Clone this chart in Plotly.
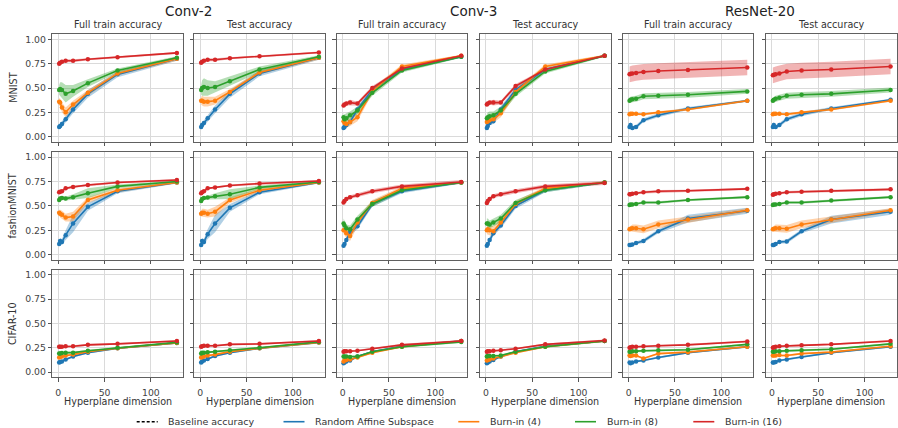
import plotly.graph_objects as go

W, H = 898, 428

# ---------------- data ----------------
dims = [1, 2, 4, 8, 16, 32, 64, 128]
series_names = ["Random Affine Subspace", "Burn-in (4)", "Burn-in (8)", "Burn-in (16)"]
baseline_name = "Baseline accuracy"
datasets = ["MNIST", "fashionMNIST", "CIFAR-10"]
models = ["Conv-2", "Conv-3", "ResNet-20"]
metrics = ["Full train accuracy", "Test accuracy"]
x_ticks = [0, 50, 100]
y_ticks = [0.0, 0.25, 0.5, 0.75, 1.0]

# each panel: [random affine, burn-in 4, burn-in 8, burn-in 16]
mnist_conv2_train = [[0.10, 0.11, 0.13, 0.18, 0.28, 0.44, 0.64, 0.80],
                     [0.36, 0.35, 0.30, 0.25, 0.33, 0.45, 0.65, 0.80],
                     [0.48, 0.49, 0.48, 0.44, 0.47, 0.55, 0.68, 0.81],
                     [0.75, 0.76, 0.77, 0.78, 0.78, 0.795, 0.815, 0.86]]
mnist_conv2_test = [[0.10, 0.12, 0.14, 0.19, 0.28, 0.44, 0.65, 0.81],
                    [0.37, 0.37, 0.36, 0.36, 0.37, 0.46, 0.66, 0.81],
                    [0.48, 0.50, 0.51, 0.50, 0.51, 0.57, 0.69, 0.82],
                    [0.76, 0.77, 0.78, 0.79, 0.79, 0.805, 0.825, 0.865]]
mnist_conv3_train = [[0.09, 0.10, 0.12, 0.15, 0.28, 0.48, 0.69, 0.82],
                     [0.16, 0.14, 0.13, 0.15, 0.20, 0.47, 0.72, 0.83],
                     [0.20, 0.18, 0.19, 0.22, 0.27, 0.45, 0.68, 0.82],
                     [0.32, 0.33, 0.34, 0.35, 0.34, 0.50, 0.70, 0.83]]
mnist_conv3_test = [[0.09, 0.11, 0.14, 0.16, 0.28, 0.48, 0.69, 0.83],
                    [0.15, 0.16, 0.17, 0.18, 0.24, 0.46, 0.72, 0.83],
                    [0.19, 0.20, 0.21, 0.22, 0.27, 0.44, 0.67, 0.83],
                    [0.33, 0.34, 0.35, 0.35, 0.35, 0.52, 0.69, 0.83]]
mnist_resnet_train = [[0.10, 0.12, 0.09, 0.10, 0.17, 0.22, 0.29, 0.37],
                      [0.23, 0.235, 0.235, 0.235, 0.23, 0.25, 0.28, 0.37],
                      [0.37, 0.38, 0.385, 0.39, 0.415, 0.42, 0.43, 0.465],
                      [0.64, 0.645, 0.65, 0.655, 0.665, 0.675, 0.685, 0.71]]
mnist_resnet_test = [[0.10, 0.12, 0.10, 0.12, 0.18, 0.23, 0.29, 0.38],
                     [0.23, 0.235, 0.235, 0.235, 0.23, 0.25, 0.28, 0.37],
                     [0.37, 0.38, 0.39, 0.40, 0.42, 0.43, 0.44, 0.48],
                     [0.63, 0.635, 0.64, 0.65, 0.67, 0.68, 0.69, 0.72]]

fashion_conv2_train = [[0.11, 0.14, 0.13, 0.20, 0.32, 0.49, 0.65, 0.74],
                       [0.43, 0.42, 0.41, 0.38, 0.39, 0.56, 0.66, 0.74],
                       [0.56, 0.575, 0.58, 0.575, 0.59, 0.63, 0.70, 0.75],
                       [0.64, 0.645, 0.65, 0.68, 0.695, 0.715, 0.74, 0.765]]
fashion_conv2_test = [[0.10, 0.14, 0.13, 0.21, 0.32, 0.48, 0.64, 0.74],
                      [0.42, 0.43, 0.43, 0.42, 0.44, 0.56, 0.66, 0.74],
                      [0.55, 0.57, 0.58, 0.585, 0.60, 0.62, 0.69, 0.745],
                      [0.63, 0.64, 0.65, 0.68, 0.69, 0.71, 0.73, 0.755]]
fashion_conv3_train = [[0.09, 0.11, 0.15, 0.23, 0.29, 0.52, 0.65, 0.74],
                       [0.25, 0.25, 0.22, 0.19, 0.33, 0.53, 0.68, 0.74],
                       [0.32, 0.30, 0.27, 0.26, 0.36, 0.52, 0.66, 0.74],
                       [0.535, 0.55, 0.57, 0.59, 0.61, 0.65, 0.70, 0.745]]
fashion_conv3_test = [[0.09, 0.11, 0.15, 0.22, 0.30, 0.50, 0.66, 0.74],
                      [0.25, 0.26, 0.25, 0.24, 0.33, 0.52, 0.68, 0.74],
                      [0.32, 0.32, 0.31, 0.33, 0.37, 0.53, 0.66, 0.74],
                      [0.53, 0.55, 0.57, 0.60, 0.62, 0.65, 0.70, 0.735]]
fashion_resnet_train = [[0.10, 0.10, 0.105, 0.12, 0.14, 0.24, 0.37, 0.45],
                        [0.26, 0.265, 0.27, 0.27, 0.26, 0.31, 0.36, 0.455],
                        [0.51, 0.515, 0.515, 0.52, 0.535, 0.535, 0.56, 0.59],
                        [0.62, 0.62, 0.625, 0.63, 0.64, 0.65, 0.655, 0.675]]
fashion_resnet_test = [[0.10, 0.10, 0.11, 0.13, 0.135, 0.24, 0.36, 0.44],
                       [0.26, 0.265, 0.27, 0.27, 0.265, 0.31, 0.36, 0.455],
                       [0.51, 0.515, 0.515, 0.52, 0.535, 0.535, 0.555, 0.59],
                       [0.615, 0.62, 0.625, 0.63, 0.64, 0.645, 0.655, 0.67]]

cifar_conv2_train = [[0.10, 0.105, 0.11, 0.13, 0.16, 0.20, 0.245, 0.30],
                     [0.15, 0.155, 0.16, 0.17, 0.18, 0.21, 0.245, 0.30],
                     [0.19, 0.19, 0.195, 0.20, 0.20, 0.22, 0.25, 0.305],
                     [0.26, 0.26, 0.26, 0.265, 0.265, 0.28, 0.29, 0.32]]
cifar_conv2_test = [[0.10, 0.11, 0.12, 0.135, 0.165, 0.20, 0.245, 0.305],
                    [0.15, 0.155, 0.16, 0.17, 0.18, 0.21, 0.245, 0.305],
                    [0.19, 0.20, 0.20, 0.205, 0.21, 0.225, 0.25, 0.31],
                    [0.26, 0.265, 0.27, 0.27, 0.27, 0.285, 0.29, 0.32]]
cifar_conv3_train = [[0.09, 0.10, 0.11, 0.12, 0.16, 0.21, 0.265, 0.32],
                     [0.11, 0.12, 0.125, 0.13, 0.15, 0.20, 0.26, 0.32],
                     [0.16, 0.16, 0.16, 0.155, 0.16, 0.21, 0.26, 0.31],
                     [0.21, 0.215, 0.215, 0.215, 0.22, 0.24, 0.28, 0.32]]
cifar_conv3_test = [[0.09, 0.10, 0.11, 0.125, 0.16, 0.21, 0.265, 0.32],
                    [0.12, 0.125, 0.13, 0.14, 0.16, 0.20, 0.26, 0.32],
                    [0.16, 0.165, 0.165, 0.165, 0.17, 0.21, 0.26, 0.32],
                    [0.21, 0.215, 0.215, 0.22, 0.225, 0.24, 0.285, 0.325]]
cifar_resnet_train = [[0.10, 0.09, 0.10, 0.11, 0.12, 0.15, 0.20, 0.26],
                      [0.17, 0.165, 0.17, 0.17, 0.14, 0.19, 0.205, 0.26],
                      [0.21, 0.21, 0.215, 0.215, 0.22, 0.225, 0.23, 0.285],
                      [0.25, 0.255, 0.26, 0.26, 0.265, 0.27, 0.28, 0.315]]
cifar_resnet_test = [[0.10, 0.10, 0.105, 0.12, 0.13, 0.155, 0.20, 0.26],
                     [0.17, 0.17, 0.17, 0.175, 0.17, 0.19, 0.205, 0.265],
                     [0.21, 0.21, 0.215, 0.215, 0.22, 0.225, 0.235, 0.29],
                     [0.25, 0.255, 0.26, 0.265, 0.27, 0.275, 0.285, 0.32]]

# spread (half-width of shaded band) for each panel, same series order
mnist_conv2_train_sd = [[0.02, 0.02, 0.03, 0.03, 0.04, 0.04, 0.03, 0.02],
                        [0.04, 0.04, 0.05, 0.05, 0.04, 0.03, 0.02, 0.02],
                        [0.05, 0.07, 0.08, 0.09, 0.06, 0.04, 0.02, 0.015],
                        [0.015, 0.015, 0.015, 0.015, 0.015, 0.01, 0.01, 0.01]]
mnist_conv2_test_sd = [[0.02, 0.02, 0.03, 0.03, 0.04, 0.04, 0.03, 0.02],
                       [0.04, 0.05, 0.05, 0.05, 0.04, 0.03, 0.02, 0.02],
                       [0.05, 0.08, 0.09, 0.08, 0.06, 0.05, 0.03, 0.015],
                       [0.015, 0.015, 0.015, 0.015, 0.015, 0.01, 0.01, 0.01]]
mnist_conv3_sd = [[0.02, 0.02, 0.02, 0.03, 0.03, 0.03, 0.02, 0.01],
                  [0.03, 0.03, 0.04, 0.04, 0.04, 0.03, 0.02, 0.01],
                  [0.04, 0.05, 0.05, 0.04, 0.04, 0.03, 0.02, 0.01],
                  [0.015, 0.02, 0.02, 0.03, 0.02, 0.02, 0.01, 0.01]]
mnist_resnet_sd = [[0.02, 0.03, 0.02, 0.02, 0.02, 0.02, 0.015, 0.01],
                   [0.012, 0.012, 0.012, 0.012, 0.012, 0.012, 0.012, 0.012],
                   [0.03, 0.03, 0.03, 0.03, 0.03, 0.03, 0.03, 0.025],
                   [0.08, 0.08, 0.08, 0.08, 0.08, 0.08, 0.08, 0.08]]
fashion_conv2_sd = [[0.02, 0.03, 0.03, 0.05, 0.09, 0.04, 0.02, 0.01],
                    [0.03, 0.04, 0.04, 0.04, 0.05, 0.03, 0.02, 0.01],
                    [0.02, 0.02, 0.02, 0.02, 0.03, 0.05, 0.02, 0.01],
                    [0.01, 0.01, 0.01, 0.01, 0.01, 0.01, 0.01, 0.01]]
fashion_conv3_sd = [[0.02, 0.03, 0.03, 0.03, 0.03, 0.03, 0.02, 0.01],
                    [0.04, 0.05, 0.05, 0.05, 0.04, 0.03, 0.02, 0.01],
                    [0.05, 0.05, 0.04, 0.04, 0.04, 0.03, 0.02, 0.01],
                    [0.02, 0.02, 0.02, 0.02, 0.02, 0.02, 0.02, 0.02]]
fashion_resnet_sd = [[0.01, 0.01, 0.01, 0.015, 0.02, 0.02, 0.04, 0.03],
                     [0.02, 0.03, 0.04, 0.04, 0.04, 0.04, 0.03, 0.02],
                     [0.01, 0.01, 0.01, 0.01, 0.012, 0.012, 0.012, 0.012],
                     [0.012, 0.012, 0.012, 0.012, 0.012, 0.012, 0.012, 0.012]]
cifar_sd = [[0.01, 0.01, 0.01, 0.01, 0.01, 0.01, 0.01, 0.01],
            [0.01, 0.01, 0.01, 0.01, 0.01, 0.01, 0.01, 0.01],
            [0.01, 0.01, 0.01, 0.01, 0.01, 0.01, 0.01, 0.01],
            [0.01, 0.01, 0.01, 0.01, 0.01, 0.01, 0.01, 0.01]]

panel_means = [
    [mnist_conv2_train, mnist_conv2_test, mnist_conv3_train, mnist_conv3_test, mnist_resnet_train, mnist_resnet_test],
    [fashion_conv2_train, fashion_conv2_test, fashion_conv3_train, fashion_conv3_test, fashion_resnet_train, fashion_resnet_test],
    [cifar_conv2_train, cifar_conv2_test, cifar_conv3_train, cifar_conv3_test, cifar_resnet_train, cifar_resnet_test],
]
panel_sds = [
    [mnist_conv2_train_sd, mnist_conv2_test_sd, mnist_conv3_sd, mnist_conv3_sd, mnist_resnet_sd, mnist_resnet_sd],
    [fashion_conv2_sd, fashion_conv2_sd, fashion_conv3_sd, fashion_conv3_sd, fashion_resnet_sd, fashion_resnet_sd],
    [cifar_sd, cifar_sd, cifar_sd, cifar_sd, cifar_sd, cifar_sd],
]

# ---------------- style ----------------
colors = ["#1f77b4", "#ff7f0e", "#2ca02c", "#d62728"]
fills = ["rgba(31,119,180,0.35)", "rgba(255,127,14,0.35)", "rgba(44,160,44,0.35)", "rgba(214,39,40,0.35)"]
FONT = "DejaVu Sans"
TXT = "#333333"

col_left = [52.3, 194.3, 336.7, 480.0, 622.7, 766.0]
panel_w = 130.5
row_top = [34.4, 152.3, 269.8]
panel_h = 107.2

# legend layout (pixel x of each sample line start; text follows)
legend_line_x = [136.7, 283.5, 458.3, 575.0, 693.3]
legend_line_len = 21
legend_text_gap = 8.5
legend_y = 421.7


def px_x(p):
    return p / W


def px_y(p):
    return 1 - p / H


fig = go.Figure()
layout = {}

for r in range(3):
    for c in range(6):
        idx = r * 6 + c + 1
        xname = "x" if idx == 1 else f"x{idx}"
        yname = "y" if idx == 1 else f"y{idx}"
        means = panel_means[r][c]
        sds = panel_sds[r][c]
        # bands
        for s in range(4):
            up = [m + d for m, d in zip(means[s], sds[s])]
            lo = [m - d for m, d in zip(means[s], sds[s])]
            fig.add_trace(go.Scatter(
                x=dims + dims[::-1], y=up + lo[::-1], fill="toself",
                fillcolor=fills[s], line=dict(width=0), mode="lines",
                hoverinfo="skip", showlegend=False, xaxis=xname, yaxis=yname))
        # lines
        for s in range(4):
            fig.add_trace(go.Scatter(
                x=dims, y=means[s], mode="lines+markers",
                line=dict(color=colors[s], width=1.6),
                marker=dict(color=colors[s], size=4.5),
                name=series_names[s], showlegend=False,
                xaxis=xname, yaxis=yname))

        x0 = col_left[c]
        y0 = row_top[r]
        common = dict(
            showline=True, mirror=True, linecolor="#606060", linewidth=1,
            ticks="outside", ticklen=3.5, tickwidth=0.8, tickcolor="#555555",
            showgrid=True, gridcolor="#dadada", gridwidth=0.8,
            zeroline=False, tickfont=dict(family=FONT, size=9.3, color="#444444"),
        )
        layout["xaxis" if idx == 1 else f"xaxis{idx}"] = dict(
            domain=[px_x(x0), px_x(x0 + panel_w)],
            anchor=yname, range=[-6.4, 134.4], ticklabelstandoff=3,
            tickvals=x_ticks, showticklabels=(r == 2), **common)
        layout["yaxis" if idx == 1 else f"yaxis{idx}"] = dict(
            domain=[px_y(y0 + panel_h), px_y(y0)],
            anchor=xname, range=[-0.05, 1.05],
            tickvals=y_ticks, tickformat=".2f", showticklabels=(c == 0), **common)

annotations = []
shapes = []
# model titles
for m in range(3):
    cx = (col_left[2 * m] + col_left[2 * m + 1] + panel_w) / 2
    annotations.append(dict(text=models[m], x=px_x(cx), y=px_y(11), xref="paper", yref="paper",
                            showarrow=False, xanchor="center", yanchor="middle",
                            font=dict(family=FONT, size=13.5, color="#222222")))
# metric titles
for c in range(6):
    cx = col_left[c] + panel_w / 2
    annotations.append(dict(text=metrics[c % 2], x=px_x(cx), y=px_y(24.5), xref="paper", yref="paper",
                            showarrow=False, xanchor="center", yanchor="middle",
                            font=dict(family=FONT, size=9.6, color=TXT)))
# row labels
for r in range(3):
    cy = row_top[r] + panel_h / 2
    annotations.append(dict(text=datasets[r], x=px_x(12.7), y=px_y(cy), xref="paper", yref="paper",
                            showarrow=False, textangle=-90, xanchor="center", yanchor="middle",
                            font=dict(family=FONT, size=9.6, color=TXT)))
# x axis titles
for c in range(6):
    cx = col_left[c] + panel_w / 2
    annotations.append(dict(text="Hyperplane dimension", x=px_x(cx), y=px_y(401.7), xref="paper", yref="paper",
                            showarrow=False, xanchor="center", yanchor="middle",
                            font=dict(family=FONT, size=9.6, color=TXT)))

# legend (drawn as line samples + text)
legend_labels = [baseline_name] + series_names
legend_colors = ["black"] + colors
legend_dashes = ["3px,2px", "solid", "solid", "solid", "solid"]
for i, lab in enumerate(legend_labels):
    lx = legend_line_x[i]
    shapes.append(dict(type="line", xref="paper", yref="paper",
                       x0=px_x(lx), x1=px_x(lx + legend_line_len), y0=px_y(legend_y), y1=px_y(legend_y),
                       line=dict(color=legend_colors[i], width=1.6, dash=legend_dashes[i])))
    annotations.append(dict(text=lab, x=px_x(lx + legend_line_len + legend_text_gap), y=px_y(legend_y),
                            xref="paper", yref="paper", showarrow=False, xanchor="left", yanchor="middle",
                            font=dict(family=FONT, size=9.5, color=TXT)))

fig.update_layout(
    width=W, height=H,
    margin=dict(l=0, r=0, t=0, b=0),
    paper_bgcolor="white", plot_bgcolor="white",
    annotations=annotations,
    shapes=shapes,
    showlegend=False,
    **layout,
)

fig.write_html("out.html", config={"displayModeBar": False},
               post_script="document.body.style.margin='0px';document.body.style.overflow='hidden';")
